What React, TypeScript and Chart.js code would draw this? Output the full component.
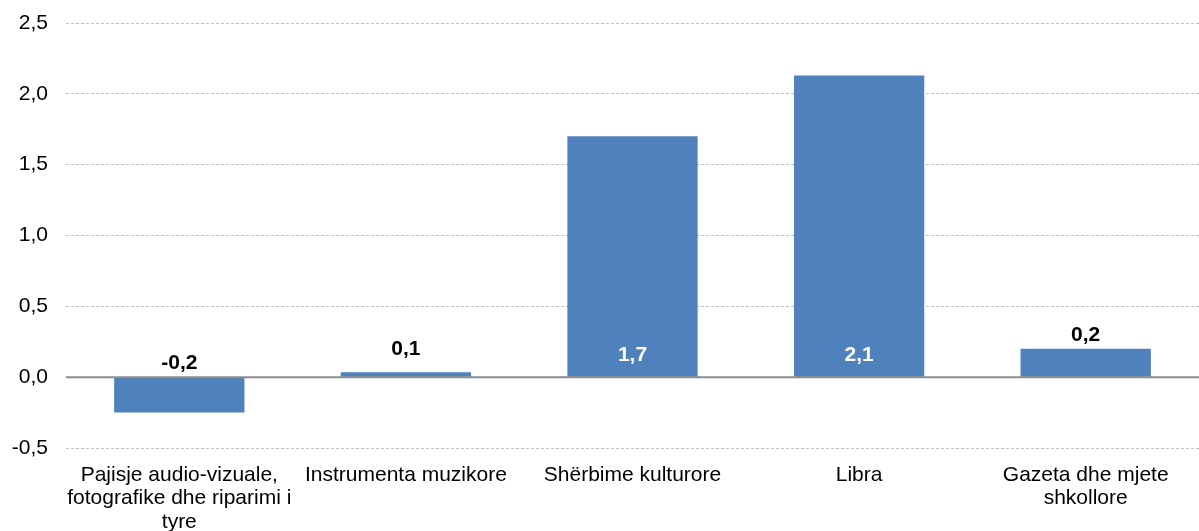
import React, { useEffect, useRef } from "react";
import { Chart, registerables } from "chart.js";

Chart.register(...registerables);

const categories: (string | string[])[] = [
  ["Pajisje audio-vizuale,", "fotografike dhe riparimi i", "tyre"],
  "Instrumenta muzikore",
  "Shërbime kulturore",
  "Libra",
  ["Gazeta dhe mjete", "shkollore"],
];
const values = [-0.25, 0.035, 1.7, 2.13, 0.2];
const labelTexts = ["-0,2", "0,1", "1,7", "2,1", "0,2"];
const labelValues = [-0.2, 0.1, 1.7, 2.1, 0.2];
const yMin = -0.5;
const yMax = 2.5;
const yStep = 0.5;

const FONT = "'Liberation Sans', Arial, sans-serif";
const BAR_COLOR = "#4F81BD";

const labelPlugin = {
  id: "barLabels",
  afterDatasetsDraw(chart: any) {
    const { ctx, chartArea } = chart;
    const y = chart.scales.y;
    const zero = y.getPixelForValue(0);
    ctx.save();
    ctx.strokeStyle = "#8C8C8C";
    ctx.lineWidth = 2;
    ctx.beginPath();
    ctx.moveTo(chartArea.left, zero);
    ctx.lineTo(chartArea.right, zero);
    ctx.stroke();
    ctx.restore();

    const meta = chart.getDatasetMeta(0);
    ctx.save();
    ctx.font = `bold 21px ${FONT}`;
    ctx.textAlign = "center";
    ctx.textBaseline = "middle";
    meta.data.forEach((bar: any, i: number) => {
      const v = values[i];
      if (v > 1) {
        ctx.fillStyle = "#FFFFFF";
        ctx.fillText(labelTexts[i], bar.x, zero - 22);
      } else {
        ctx.fillStyle = "#000000";
        const anchor = y.getPixelForValue(Math.max(labelValues[i], 0));
        ctx.fillText(labelTexts[i], bar.x, anchor - 14);
      }
    });
    ctx.restore();
  },
};

export default function App() {
  const ref = useRef<HTMLCanvasElement | null>(null);
  useEffect(() => {
    document.body.style.margin = "0";
    if (!ref.current) return;
    const chart = new Chart(ref.current, {
      type: "bar",
      data: {
        labels: categories,
        datasets: [
          {
            data: values,
            backgroundColor: BAR_COLOR,
            borderWidth: 0,
            categoryPercentage: 1,
            barPercentage: 0.575,
          },
        ],
      },
      options: {
        animation: false,
        responsive: false,
        maintainAspectRatio: false,
        layout: { padding: { top: 23, right: 0, left: 0, bottom: 0 } },
        plugins: {
          legend: { display: false },
          tooltip: { enabled: false },
        },
        scales: {
          x: {
            grid: { display: false },
            border: { display: false },
            ticks: {
              color: "#000000",
              font: { family: FONT, size: 21, lineHeight: 1.13 },
              padding: 7,
              maxRotation: 0,
              autoSkip: false,
            },
            afterFit: (s: any) => {
              s.height = 83;
            },
          },
          y: {
            min: yMin,
            max: yMax,
            border: { display: false, dash: [3, 2] },
            grid: {
              color: (c: any) => (c.tick && c.tick.value === 0 ? "rgba(0,0,0,0)" : "#BFBFBF"),
              lineWidth: 1,
              drawTicks: false,
            },
            ticks: {
              stepSize: yStep,
              color: "#000000",
              padding: 18,
              font: { family: FONT, size: 21 },
              callback: (v: any) => Number(v).toFixed(1).replace(".", ","),
            },
            afterFit: (s: any) => {
              s.width = 66;
              s.paddingTop = 0;
              s.paddingBottom = 0;
            },
          },
        },
      },
      plugins: [labelPlugin],
    });
    return () => chart.destroy();
  }, []);
  return (
    <div style={{ width: 1199, height: 531 }}>
      <canvas ref={ref} width={1199} height={531} style={{ display: "block" }} />
    </div>
  );
}
